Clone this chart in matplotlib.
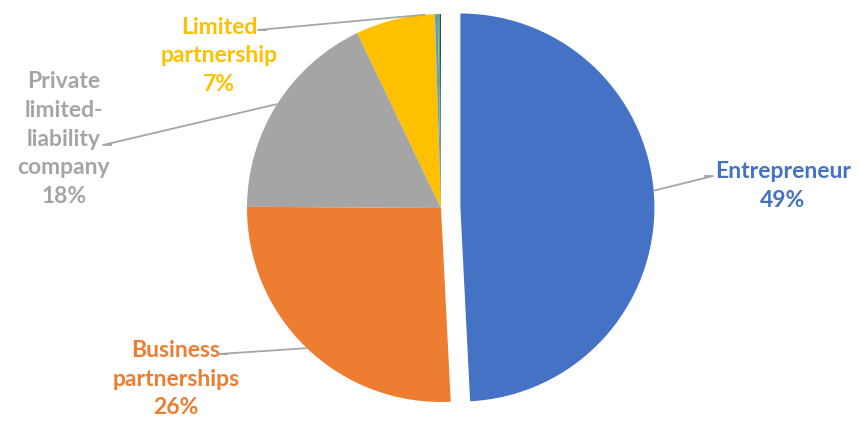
import numpy as np
import matplotlib.pyplot as plt

plt.rcParams['font.family'] = ['Lato', 'DejaVu Sans']

# data
names = ['Entrepreneur', 'Business\npartnerships', 'Private\nlimited-\nliability\ncompany',
         'Limited\npartnership', 'Other 1', 'Other 2', 'Other 3']
shares = [49.2, 25.9, 17.8, 6.6, 0.25, 0.15, 0.1]
colors = ['#4472C4', '#ED7D31', '#A5A5A5', '#FFC000', '#5B9BD5', '#70AD47', '#264478']
explode = [0.1, 0, 0, 0, 0, 0, 0]

W, H = 860, 424
cx, cy, R = 441, 208, 194  # pie centre and radius in pixels


def px(x, y):
    # pixel position (from top-left) -> data units
    return (x - cx) / R, (cy - y) / R


fig = plt.figure(figsize=(W / 100, H / 100), dpi=100)
ax = fig.add_axes([0, 0, 1, 1])
wedges, _ = ax.pie(shares, colors=colors, explode=explode, startangle=90,
                   counterclock=False, radius=1,
                   wedgeprops=dict(linewidth=0))
ax.set_xlim(-cx / R, (W - cx) / R)
ax.set_ylim(-(H - cy) / R, cy / R)
ax.set_aspect('equal')
ax.axis('off')

# label text centre, line end near text, where on the wedge the line starts
label_pos = [(783, 186), (176, 379), (64, 139), (219, 56)]
line_end = [(704, 176), (228, 354), (112, 145), (267, 30)]
anchor_frac = [0.52, 0.5, 0.5, 0.12]

for i in range(4):
    w = wedges[i]
    t1, t2 = w.theta1, w.theta2
    ang = np.deg2rad(t1 + (t2 - t1) * anchor_frac[i])
    ox, oy = w.center
    ax_x, ax_y = ox + np.cos(ang), oy + np.sin(ang)
    ex, ey = px(*line_end[i])
    step = 9 / R if ex > ax_x else -9 / R
    ax.plot([ax_x, ex + step, ex], [ax_y, ey, ey], color='#A6A6A6', lw=1.3,
            solid_capstyle='butt')
    tx, ty = px(*label_pos[i])
    ax.text(tx, ty, f"{names[i]}\n{shares[i]:.0f}%", color=colors[i],
            fontsize=16.5, fontweight='bold', ha='center', va='center',
            linespacing=1.45)

fig.savefig('out.png', dpi=100)
